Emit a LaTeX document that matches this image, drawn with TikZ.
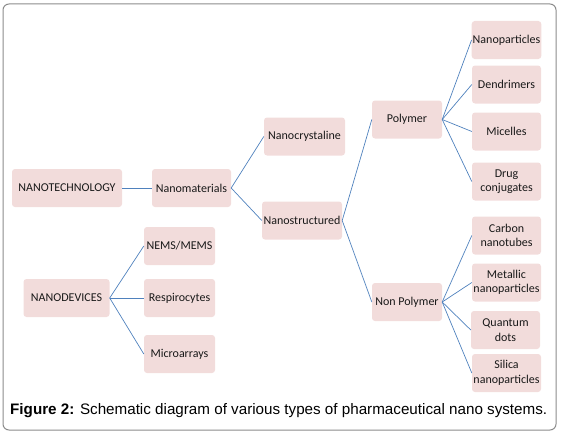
\documentclass[tikz,border=0pt]{standalone}
\usepackage{fontspec}
\setmainfont{Carlito}
\newfontfamily\captionfont{Liberation Sans}
\usetikzlibrary{positioning}
\definecolor{boxpink}{HTML}{F2DCDB}
\definecolor{linkblue}{HTML}{4F81BD}
\definecolor{framegray}{HTML}{8C8C8C}
\tikzstyle{item}=[
  fill=boxpink,
  rounded corners=3pt,
  minimum height=38pt,
  inner sep=1pt,
  align=center,
  text=black!90,
  font={\fontsize{12}{14.5}\selectfont},
]
\tikzstyle{leaf}=[
  item,
  minimum width=69pt,
]
\tikzstyle{link}=[
  color=linkblue,
  draw=linkblue,
  line width=.7pt,
]
\tikzset{
  x=1pt,
  y=-1pt,
}

\begin{document}
\begin{tikzpicture}
  \useasboundingbox (0,0) rectangle (561,436);
  \draw [framegray, line width=1pt, rounded corners=6pt] (3,4) rectangle (556,430);
  % left part
  \node [item, minimum width=110pt] (tech) at (67,188) {NANOTECHNOLOGY};
  \node [item, minimum width=79pt] (mat) at (191.5,188) {Nanomaterials};
  \node [item, minimum width=86pt] (devices) at (66.5,298) {NANODEVICES};
  \node [item, minimum width=71pt] (nems) at (179.5,246) {NEMS/MEMS};
  \node [item, minimum width=71pt] (resp) at (179.5,298) {Respirocytes};
  \node [item, minimum width=71pt] (micro) at (179.5,354) {Microarrays};
  % middle part
  \node [item, minimum width=81pt] (cryst) at (304.5,136.5) {Nanocrystaline};
  \node [item, minimum width=80pt] (struct) at (302,220.5) {Nanostructured};
  \node [item, minimum width=70pt] (poly) at (407,119.5) {Polymer};
  \node [item, minimum width=70pt] (nonpoly) at (407,302) {Non Polymer};
  % right column
  \node [leaf] (nanopart) at (506.5,40) {Nanoparticles};
  \node [leaf] (dendr) at (506.5,84.5) {Dendrimers};
  \node [leaf] (micel) at (506.5,131.5) {Micelles};
  \node [leaf] (drug) at (506.5,181.5) {Drug\\conjugates};
  \node [leaf] (carbon) at (506.5,235.5) {Carbon\\nanotubes};
  \node [leaf] (metal) at (506.5,282.5) {Metallic\\nanoparticles};
  \node [leaf] (quantum) at (505.5,330) {Quantum\\dots};
  \node [leaf] (silica) at (506.5,373) {Silica\\nanoparticles};
  % links
  \draw [link] (tech.east) -- (mat.west);
  \foreach \kid in {cryst,struct}
    \draw [link] (mat.east) -- (\kid.west);
  \foreach \kid in {poly,nonpoly}
    \draw [link] (struct.east) -- (\kid.west);
  \foreach \kid in {nanopart,dendr,micel,drug}
    \draw [link] (poly.east) -- (\kid.west);
  \foreach \kid in {carbon,metal,quantum,silica}
    \draw [link] (nonpoly.east) -- (\kid.west);
  \foreach \kid in {nems,resp,micro}
    \draw [link] (devices.east) -- (\kid.west);
  % caption
  \node [anchor=west, inner sep=0pt, font={\captionfont\fontsize{15.2}{17}\selectfont}]
    (caption) at (10,411) {\textbf{Figure 2:} Schematic diagram of various types of pharmaceutical nano systems.};
\end{tikzpicture}
\end{document}
